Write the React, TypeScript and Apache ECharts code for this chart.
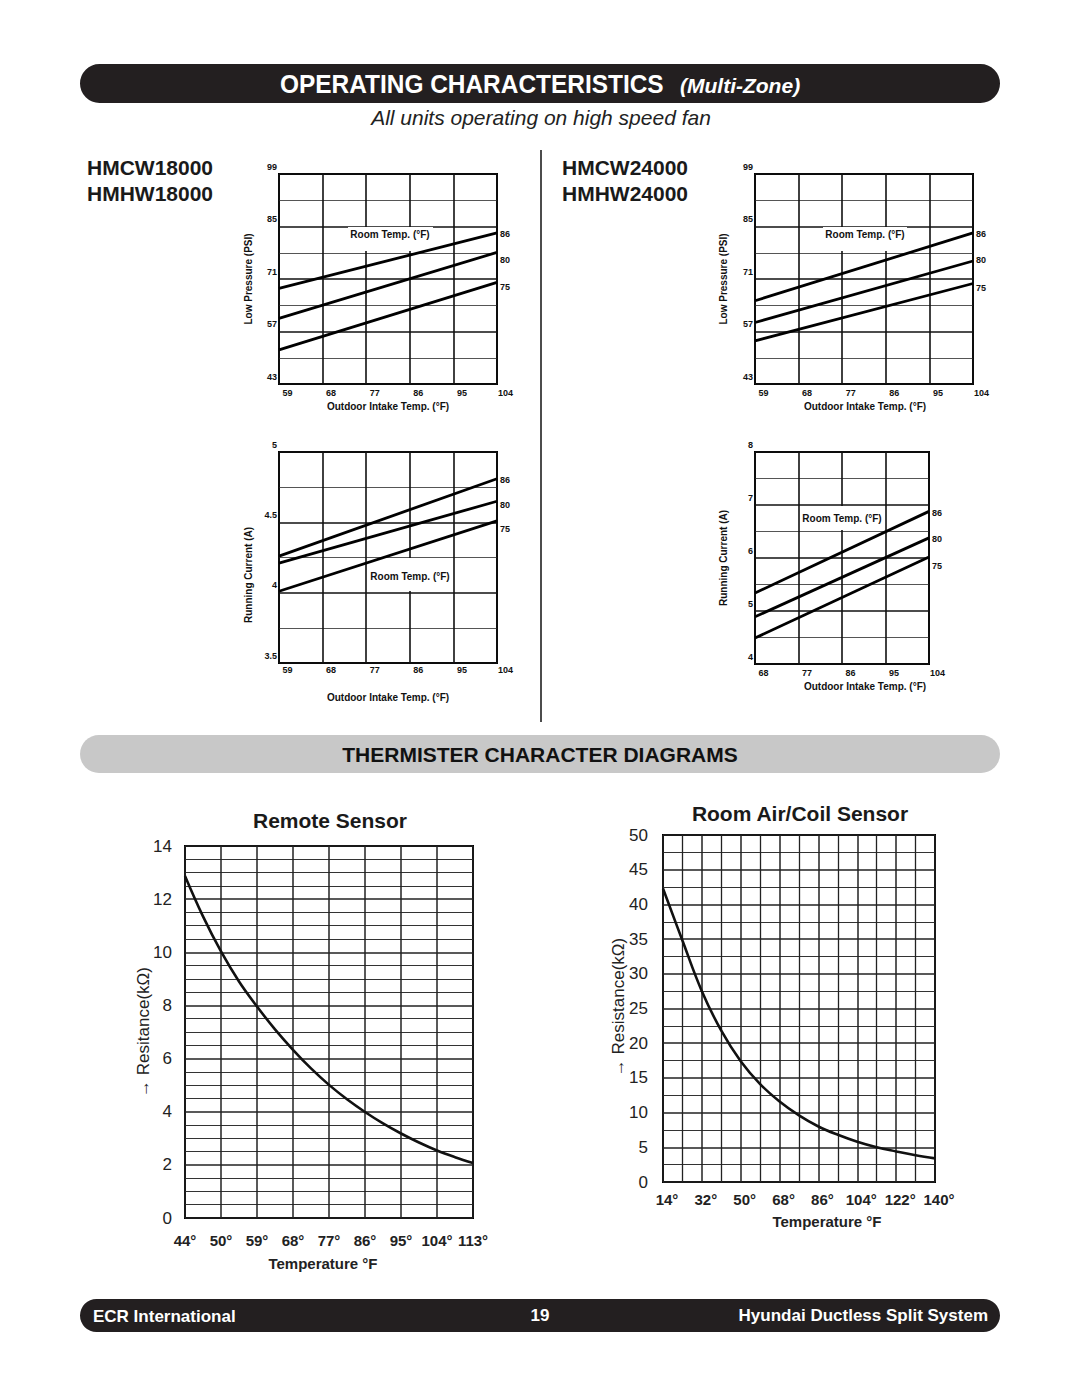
import React, { useEffect, useRef } from 'react';
import * as echarts from 'echarts';

const FONT = '"Liberation Sans", Arial, Helvetica, sans-serif';

// ---------- Operating characteristics data ----------
const outdoorTempF = [59, 104];
const outdoorTempF24Current = [68, 104];
const roomTempLabels = ['86', '80', '75'];

// HMCW18000 / HMHW18000 low pressure (PSI)
const lowPressure18_86 = [68.5, 83.3];
const lowPressure18_80 = [60.5, 78.1];
const lowPressure18_75 = [52.1, 70.1];
// HMCW24000 / HMHW24000 low pressure (PSI)
const lowPressure24_86 = [65.2, 83.3];
const lowPressure24_80 = [59.4, 75.8];
const lowPressure24_75 = [54.5, 69.8];
// HMCW18000 running current (A)
const current18_86 = [4.26, 4.81];
const current18_80 = [4.21, 4.65];
const current18_75 = [4.01, 4.51];
// HMCW24000 running current (A)
const current24_86 = [5.34, 6.88];
const current24_80 = [4.89, 6.38];
const current24_75 = [4.49, 6.02];

// ---------- Thermistor data ----------
const remoteTempLabels = ['44°', '50°', '59°', '68°', '77°', '86°', '95°', '104°', '113°'];
const remoteIndex = [0, 0.5, 1, 1.5, 2, 2.5, 3, 3.5, 4, 4.5, 5, 5.5, 6, 6.5, 7, 7.5, 8];
const remoteResistance = [12.87, 11.35, 10.03, 8.9, 7.96, 7.1, 6.33, 5.63, 5.01, 4.47, 3.99, 3.56, 3.18, 2.84, 2.54, 2.29, 2.07];
const roomAirTempC = [-10, -5, 0, 5, 10, 15, 20, 25, 30, 35, 40, 45, 50, 55, 60];
const roomAirResistance = [42.3, 34.8, 27.5, 21.8, 17.4, 14.1, 11.6, 9.6, 8.0, 6.8, 5.8, 5.0, 4.4, 3.85, 3.4];

function txt(text: string, x: number, y: number, o: any = {}) {
  const align = o.align || 'center';
  const va = o.va || 'middle';
  return {
    type: 'text',
    x,
    y,
    rotation: o.rotation || 0,
    scaleX: o.scaleX || 1,
    z: 10,
    silent: true,
    style: {
      text,
      fill: o.color || '#111',
      fontSize: o.size || 10,
      fontWeight: o.weight || 'normal',
      fontStyle: o.style || 'normal',
      fontFamily: FONT,
      align,
      textAlign: align,
      verticalAlign: va,
      textVerticalAlign: va,
    },
  };
}

function whiteBox(x1: number, y1: number, x2: number, y2: number) {
  return {
    type: 'rect',
    z: 1,
    silent: true,
    shape: { x: x1, y: y1, width: x2 - x1, height: y2 - y1 },
    style: { fill: '#fff' },
  };
}

function topX(gridIndex: number, min: number, max: number, margin: number) {
  return {
    type: 'value',
    gridIndex,
    min,
    max,
    interval: 9,
    axisLine: { show: false },
    axisTick: { show: false },
    splitLine: { show: true, lineStyle: { color: '#111', width: 1.6 } },
    axisLabel: {
      formatter: (v: number) => String(Math.round(v + 59)),
      fontSize: 9,
      fontWeight: 'bold',
      fontFamily: FONT,
      color: '#111',
      margin,
      padding: [0, 0, 0, 17],
      showMinLabel: true,
      showMaxLabel: true,
    },
  };
}

function topY(gridIndex: number, min: number, max: number, interval: number, offset: number) {
  return {
    type: 'value',
    gridIndex,
    min,
    max,
    interval,
    axisLine: { show: false },
    axisTick: { show: false },
    splitLine: { show: true, lineStyle: { color: '#111', width: 1.6 } },
    minorTick: { show: false, splitNumber: 2 },
    minorSplitLine: { show: true, lineStyle: { color: '#555', width: 1 } },
    axisLabel: {
      formatter: (v: number) => String(+(v + offset).toFixed(2)),
      fontSize: 9,
      fontWeight: 'bold',
      fontFamily: FONT,
      color: '#111',
      margin: 2,
      verticalAlign: 'bottom',
      padding: [0, 0, 3, 0],
      showMinLabel: true,
      showMaxLabel: true,
    },
  };
}

function topLine(idx: number, xs: number[], xOff: number, ys: number[], yOff: number, name: string, dy: number) {
  return {
    type: 'line',
    name,
    xAxisIndex: idx,
    yAxisIndex: idx,
    data: xs.map((x, i) => [x - xOff, ys[i] - yOff]),
    showSymbol: false,
    symbol: 'none',
    silent: true,
    z: 3,
    lineStyle: { color: '#000', width: 2.8 },
    endLabel: {
      show: true,
      formatter: name,
      distance: 3,
      offset: [0, dy],
      fontSize: 9,
      fontWeight: 'bold',
      fontFamily: FONT,
      color: '#111',
    },
  };
}

export default function App() {
  const ref = useRef<HTMLDivElement>(null);

  useEffect(() => {
    if (!ref.current) return;
    const chart = echarts.init(ref.current, undefined, { renderer: 'svg' });

    const gridBase = { show: true, borderColor: '#000', borderWidth: 2, containLabel: false };

    const option: any = {
      animation: false,
      backgroundColor: '#fff',
      grid: [
        { ...gridBase, left: 279, top: 174, width: 218, height: 210 },
        { ...gridBase, left: 755, top: 174, width: 218, height: 210 },
        { ...gridBase, left: 279, top: 452, width: 218, height: 211 },
        { ...gridBase, left: 755, top: 452, width: 174, height: 212 },
        { ...gridBase, left: 185, top: 846, width: 288, height: 372 },
        { ...gridBase, left: 663, top: 835, width: 272, height: 347 },
      ],
      xAxis: [
        topX(0, 0, 45, 4),
        topX(1, 0, 45, 4),
        topX(2, 0, 45, 2),
        topX(3, 9, 45, 4),
        {
          type: 'value',
          gridIndex: 4,
          min: 0,
          max: 8,
          interval: 1,
          axisLine: { show: false },
          axisTick: { show: false },
          splitLine: { show: true, lineStyle: { color: '#222', width: 1.5 } },
          axisLabel: {
            formatter: (v: number) => remoteTempLabels[Math.round(v)] ?? '',
            fontSize: 15,
            fontWeight: 'bold',
            fontFamily: FONT,
            color: '#222',
            margin: 15,
            showMinLabel: true,
            showMaxLabel: true,
          },
        },
        {
          type: 'value',
          gridIndex: 5,
          min: -10,
          max: 60,
          interval: 10,
          axisLine: { show: false },
          axisTick: { show: false },
          splitLine: { show: true, lineStyle: { color: '#222', width: 1.5 } },
          minorTick: { show: false, splitNumber: 2 },
          minorSplitLine: { show: true, lineStyle: { color: '#222', width: 1.3 } },
          axisLabel: {
            formatter: (v: number) => Math.round((v * 9) / 5 + 32) + '°',
            fontSize: 15,
            fontWeight: 'bold',
            fontFamily: FONT,
            color: '#222',
            margin: 10,
            padding: [0, 0, 0, 8],
            showMinLabel: true,
            showMaxLabel: true,
          },
        },
      ],
      yAxis: [
        topY(0, 0, 56, 14, 43),
        topY(1, 0, 56, 14, 43),
        topY(2, 3.5, 5, 0.5, 0),
        topY(3, 4, 8, 1, 0),
        {
          type: 'value',
          gridIndex: 4,
          min: 0,
          max: 14,
          interval: 2,
          axisLine: { show: false },
          axisTick: { show: false },
          splitLine: { show: true, lineStyle: { color: '#222', width: 1.6 } },
          minorTick: { show: false, splitNumber: 4 },
          minorSplitLine: { show: true, lineStyle: { color: '#333', width: 1 } },
          axisLabel: { fontSize: 17, fontFamily: FONT, color: '#222', margin: 13 },
        },
        {
          type: 'value',
          gridIndex: 5,
          min: 0,
          max: 50,
          interval: 5,
          axisLine: { show: false },
          axisTick: { show: false },
          splitLine: { show: true, lineStyle: { color: '#222', width: 1.6 } },
          minorTick: { show: false, splitNumber: 2 },
          minorSplitLine: { show: true, lineStyle: { color: '#333', width: 1 } },
          axisLabel: { fontSize: 17, fontFamily: FONT, color: '#222', margin: 15 },
        },
      ],
      series: [
        topLine(0, outdoorTempF, 59, lowPressure18_86, 43, roomTempLabels[0], 1),
        topLine(0, outdoorTempF, 59, lowPressure18_80, 43, roomTempLabels[1], 8),
        topLine(0, outdoorTempF, 59, lowPressure18_75, 43, roomTempLabels[2], 5),
        topLine(1, outdoorTempF, 59, lowPressure24_86, 43, roomTempLabels[0], 1),
        topLine(1, outdoorTempF, 59, lowPressure24_80, 43, roomTempLabels[1], -1),
        topLine(1, outdoorTempF, 59, lowPressure24_75, 43, roomTempLabels[2], 4),
        topLine(2, outdoorTempF, 59, current18_86, 0, roomTempLabels[0], 1),
        topLine(2, outdoorTempF, 59, current18_80, 0, roomTempLabels[1], 4),
        topLine(2, outdoorTempF, 59, current18_75, 0, roomTempLabels[2], 8),
        topLine(3, outdoorTempF24Current, 59, current24_86, 0, roomTempLabels[0], 2),
        topLine(3, outdoorTempF24Current, 59, current24_80, 0, roomTempLabels[1], 1),
        topLine(3, outdoorTempF24Current, 59, current24_75, 0, roomTempLabels[2], 9),
        {
          type: 'line',
          xAxisIndex: 4,
          yAxisIndex: 4,
          data: remoteIndex.map((x, i) => [x, remoteResistance[i]]),
          smooth: 0.4,
          showSymbol: false,
          symbol: 'none',
          silent: true,
          z: 3,
          lineStyle: { color: '#111', width: 2.6 },
        },
        {
          type: 'line',
          xAxisIndex: 5,
          yAxisIndex: 5,
          data: roomAirTempC.map((x, i) => [x, roomAirResistance[i]]),
          smooth: 0.4,
          showSymbol: false,
          symbol: 'none',
          silent: true,
          z: 3,
          lineStyle: { color: '#111', width: 2.6 },
        },
      ],
      graphic: [
        // header banner
        {
          type: 'rect',
          z: 0,
          silent: true,
          shape: { x: 80, y: 64, width: 920, height: 39, r: 19.5 },
          style: { fill: '#231f20' },
        },
        txt('OPERATING CHARACTERISTICS', 280, 84, { align: 'left', size: 26, weight: 'bold', color: '#fff', scaleX: 0.94 }),
        txt('(Multi-Zone)', 680, 85, { align: 'left', size: 21, weight: 'bold', style: 'italic', color: '#fff' }),
        txt('All units operating on high speed fan', 541, 117, { size: 21, style: 'italic', color: '#222' }),
        // model names
        txt('HMCW18000', 87, 167, { align: 'left', size: 21, weight: 'bold', color: '#1a1a1a' }),
        txt('HMHW18000', 87, 193, { align: 'left', size: 21, weight: 'bold', color: '#1a1a1a' }),
        txt('HMCW24000', 562, 167, { align: 'left', size: 21, weight: 'bold', color: '#1a1a1a' }),
        txt('HMHW24000', 562, 193, { align: 'left', size: 21, weight: 'bold', color: '#1a1a1a' }),
        // divider
        {
          type: 'line',
          z: 0,
          silent: true,
          shape: { x1: 541, y1: 150, x2: 541, y2: 722 },
          style: { stroke: '#111', lineWidth: 1.5 },
        },
        // room temp boxes
        whiteBox(348, 227, 433, 251),
        whiteBox(823, 227, 907, 251),
        whiteBox(368, 558, 452, 591),
        whiteBox(800, 506, 884, 530),
        txt('Room Temp. (°F)', 390, 234, { size: 10, weight: 'bold' }),
        txt('Room Temp. (°F)', 865, 234, { size: 10, weight: 'bold' }),
        txt('Room Temp. (°F)', 410, 576, { size: 10, weight: 'bold' }),
        txt('Room Temp. (°F)', 842, 518, { size: 10, weight: 'bold' }),
        // axis titles (top charts)
        txt('Low Pressure (PSI)', 248, 279, { size: 10, weight: 'bold', rotation: Math.PI / 2 }),
        txt('Low Pressure (PSI)', 723, 279, { size: 10, weight: 'bold', rotation: Math.PI / 2 }),
        txt('Running Current (A)', 248, 575, { size: 10, weight: 'bold', rotation: Math.PI / 2 }),
        txt('Running Current (A)', 723, 558, { size: 10, weight: 'bold', rotation: Math.PI / 2 }),
        txt('Outdoor Intake Temp. (°F)', 388, 406, { size: 10, weight: 'bold' }),
        txt('Outdoor Intake Temp. (°F)', 865, 406, { size: 10, weight: 'bold' }),
        txt('Outdoor Intake Temp. (°F)', 388, 697, { size: 10, weight: 'bold' }),
        txt('Outdoor Intake Temp. (°F)', 865, 686, { size: 10, weight: 'bold' }),
        // thermistor banner
        {
          type: 'rect',
          z: 0,
          silent: true,
          shape: { x: 80, y: 735, width: 920, height: 38, r: 19 },
          style: { fill: '#c8c8c8' },
        },
        txt('THERMISTER CHARACTER DIAGRAMS', 540, 754, { size: 21, weight: 'bold', color: '#111' }),
        // thermistor titles
        txt('Remote Sensor', 330, 820, { size: 21, weight: 'bold', color: '#1a1a1a' }),
        txt('Room Air/Coil Sensor', 800, 813, { size: 21, weight: 'bold', color: '#1a1a1a' }),
        txt('Temperature °F', 323, 1263, { size: 15, weight: 'bold', color: '#222' }),
        txt('Temperature °F', 827, 1221, { size: 15, weight: 'bold', color: '#222' }),
        txt('→ Resitance(kΩ)', 143, 1032, { size: 17, color: '#222', rotation: Math.PI / 2 }),
        txt('→ Resistance(kΩ)', 618, 1007, { size: 17, color: '#222', rotation: Math.PI / 2 }),
        // footer
        {
          type: 'rect',
          z: 0,
          silent: true,
          shape: { x: 80, y: 1299, width: 920, height: 33, r: 16.5 },
          style: { fill: '#231f20' },
        },
        txt('ECR International', 93, 1316, { align: 'left', size: 17, weight: 'bold', color: '#fff' }),
        txt('19', 540, 1315, { size: 17, weight: 'bold', color: '#fff' }),
        txt('Hyundai Ductless Split System', 988, 1315, { align: 'right', size: 17, weight: 'bold', color: '#fff' }),
      ],
    };

    chart.setOption(option);
    return () => chart.dispose();
  }, []);

  return (
    <div
      ref={ref}
      style={{ position: 'absolute', left: 0, top: 0, width: 1080, height: 1397, background: '#fff' }}
    />
  );
}
